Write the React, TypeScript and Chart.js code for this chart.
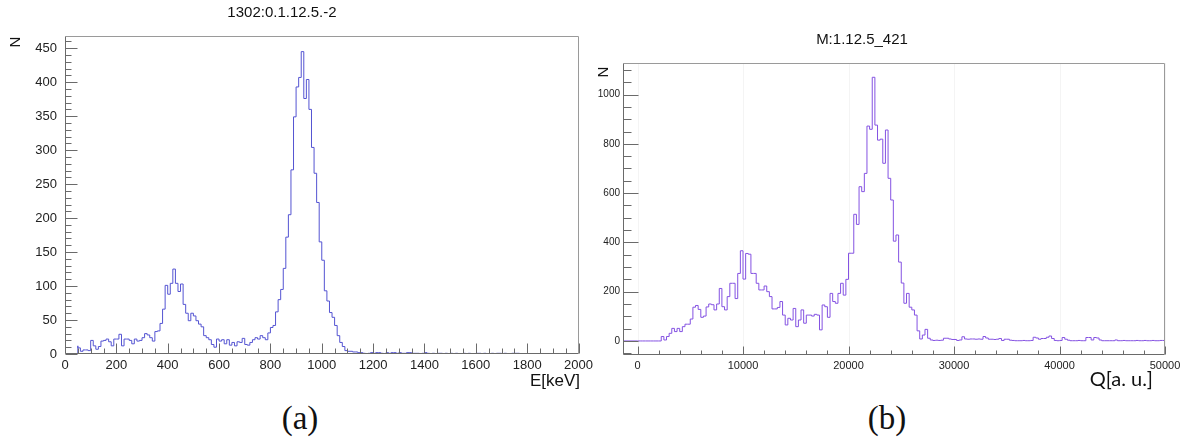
import React, { useEffect, useRef } from "react";
import { Chart, registerables } from "chart.js";

Chart.register(...registerables);

// ---------- data ----------
const leftTitle = "1302:0.1.12.5.-2";
const leftXLabel = "E[keV]";
const leftBinStart = 50;
const leftBinWidth = 10;
const leftCounts = [
  12, 9, 4, 6, 6, 5, 20, 12, 7, 11,
  19, 20, 22, 18, 12, 22, 22, 29, 12, 22,
  22, 20, 15, 22, 19, 20, 24, 30, 28, 24,
  19, 33, 34, 45, 66, 101, 88, 104, 125, 104,
  92, 103, 73, 60, 49, 60, 56, 49, 44, 40,
  27, 24, 21, 14, 10, 22, 19, 21, 15, 21,
  13, 17, 12, 18, 17, 23, 14, 13, 17, 21,
  24, 22, 27, 24, 21, 31, 39, 42, 62, 80,
  95, 126, 172, 205, 271, 349, 393, 407, 445, 376,
  404, 360, 304, 266, 223, 165, 138, 93, 78, 61,
  54, 42, 27, 17, 11, 5, 4, 4, 3, 3,
  2, 2, 1, 0, 1, 2, 1, 2, 2, 1,
  0, 2, 1, 2, 2, 1, 2, 1, 1, 2,
  2, 1, 1, 1, 0, 1, 2, 1, 0, 1,
  0, 1, 1, 0, 1, 0, 1, 0, 1, 0,
  0, 1, 0, 1, 0, 0, 1, 1, 0, 1,
  0, 0, 1, 0, 1, 1, 0, 1, 0, 0,
  1, 1,
];
const leftXTicks = [0, 200, 400, 600, 800, 1000, 1200, 1400, 1600, 1800, 2000];
const leftYTicks = [0, 50, 100, 150, 200, 250, 300, 350, 400, 450];

const rightTitle = "M:1.12.5_421";
const rightXLabel = "Q[a. u.]";
const rightBinStart = 0;
const rightBinWidth = 250;
const rightCounts = [
  0, 0, 0, 0, 0, 0, 0, 0, 0, 0,
  18, 4, 18, 31, 51, 38, 51, 38, 58, 68,
  68, 89, 137, 144, 128, 96, 101, 138, 150, 147,
  126, 150, 213, 139, 126, 180, 234, 234, 172, 274,
  366, 251, 355, 352, 274, 274, 234, 207, 207, 223,
  200, 180, 130, 130, 136, 160, 105, 65, 92, 85,
  132, 58, 85, 126, 72, 105, 105, 101, 108, 105,
  45, 146, 139, 96, 193, 160, 153, 193, 234, 186,
  250, 356, 356, 514, 473, 626, 606, 680, 872, 859,
  1070, 876, 815, 819, 721, 856, 660, 572, 405, 430,
  320, 235, 153, 193, 137, 126, 105, 41, 8, 24,
  47, 11, 4, 2, 3, 2, 3, 11, 11, 8,
  6, 6, 2, 4, 17, 8, 7, 8, 8, 7,
  8, 7, 18, 12, 7, 7, 6, 7, 10, 2,
  7, 7, 3, 2, 1, 1, 1, 2, 1, 1,
  2, 15, 12, 7, 10, 10, 15, 20, 10, 2,
  1, 2, 14, 7, 3, 1, 1, 1, 2, 1,
  1, 14, 14, 4, 14, 12, 4, 1, 1, 1,
  1, 1, 4, 1, 1, 2, 1, 1, 1, 1,
  2, 1, 1, 2, 1, 1, 2, 1, 1, 2,
];
const rightXTicks = [0, 10000, 20000, 30000, 40000, 50000];
const rightYTicks = [0, 200, 400, 600, 800, 1000];

// ---------- helpers ----------
type Pt = { x: number; y: number };

function histPoints(start: number, width: number, counts: number[], from: number | null, dropToZero: boolean): Pt[] {
  const pts: Pt[] = [];
  if (from !== null) pts.push({ x: from, y: 0 });
  pts.push({ x: start, y: 0 });
  counts.forEach((c, i) => pts.push({ x: start + i * width, y: c }));
  const end = start + counts.length * width;
  pts.push({ x: end, y: counts[counts.length - 1] });
  if (dropToZero) pts.push({ x: end, y: 0 });
  return pts;
}

const rootFrame = {
  id: "rootFrame",
  beforeDatasetsDraw(chart: any, _args: any, opts: any) {
    if (!opts || !opts.grid) return;
    const { ctx, chartArea: a, scales } = chart;
    ctx.save();
    ctx.strokeStyle = "rgba(0,0,0,0.045)";
    ctx.lineWidth = 1;
    for (const v of opts.xMajorList) {
      const px = Math.round(scales.x.getPixelForValue(v)) + 0.5;
      ctx.beginPath();
      ctx.moveTo(px, a.top);
      ctx.lineTo(px, a.bottom);
      ctx.stroke();
    }
    ctx.restore();
  },
  afterDatasetsDraw(chart: any, _args: any, opts: any) {
    const { ctx, chartArea: a, scales } = chart;
    const L = Math.round(a.left) + 0.5;
    const R = Math.round(a.right) - 0.5;
    const T = Math.round(a.top) + 0.5;
    const B = Math.round(a.bottom) - 0.5;
    ctx.save();
    ctx.lineWidth = 1;
    ctx.strokeStyle = opts.frameColor;
    ctx.beginPath();
    ctx.moveTo(L, T);
    ctx.lineTo(R, T);
    ctx.lineTo(R, B);
    ctx.stroke();
    ctx.strokeStyle = opts.axisColor;
    ctx.beginPath();
    ctx.moveTo(L, T);
    ctx.lineTo(L, B);
    ctx.lineTo(R, B);
    ctx.stroke();
    // x ticks
    const xs = scales.x;
    const x0 = Math.ceil(xs.min / opts.xMinor) * opts.xMinor;
    for (let v = x0; v <= xs.max + 1e-9; v += opts.xMinor) {
      const major = Math.abs(v / opts.xMajor - Math.round(v / opts.xMajor)) < 1e-6;
      const len = major ? opts.xMajorLen : opts.xMinorLen;
      const px = Math.round(xs.getPixelForValue(v)) + 0.5;
      ctx.beginPath();
      ctx.moveTo(px, B);
      ctx.lineTo(px, B - len);
      ctx.stroke();
    }
    // y ticks
    const ys = scales.y;
    const y0 = Math.ceil(ys.min / opts.yMinor) * opts.yMinor;
    for (let v = y0; v <= ys.max + 1e-9; v += opts.yMinor) {
      const major = Math.abs(v / opts.yMajor - Math.round(v / opts.yMajor)) < 1e-6;
      const len = major ? opts.yMajorLen : opts.yMinorLen;
      const py = Math.round(ys.getPixelForValue(v)) + 0.5;
      ctx.beginPath();
      ctx.moveTo(L, py);
      ctx.lineTo(L + len, py);
      ctx.stroke();
    }
    ctx.restore();
  },
};

type PanelProps = {
  left: number;
  points: Pt[];
  color: string;
  xMin: number;
  xMax: number;
  yMin: number;
  yMax: number;
  xTicks: number[];
  yTicks: number[];
  padding: { left: number; right: number; top: number; bottom: number };
  yAxisWidth: number;
  xAxisHeight: number;
  fontSize: number;
  yFontSize: number;
  yPad: number;
  xPad: number;
  frameOpts: any;
};

function Panel(p: PanelProps) {
  const ref = useRef<HTMLCanvasElement | null>(null);
  useEffect(() => {
    if (!ref.current) return;
    const chart = new Chart(ref.current, {
      type: "line",
      data: {
        datasets: [
          {
            data: p.points,
            borderColor: p.color,
            borderWidth: 1,
            pointRadius: 0,
            stepped: "after",
            fill: false,
          },
        ],
      },
      options: {
        animation: false,
        responsive: false,
        maintainAspectRatio: false,
        parsing: false,
        normalized: true,
        layout: { padding: p.padding },
        plugins: {
          legend: { display: false },
          tooltip: { enabled: false },
          title: { display: false },
          rootFrame: p.frameOpts,
        } as any,
        scales: {
          x: {
            type: "linear",
            min: p.xMin,
            max: p.xMax,
            grid: { display: false, drawTicks: false },
            border: { display: false },
            afterBuildTicks: (s: any) => {
              s.ticks = p.xTicks.map((v) => ({ value: v }));
            },
            afterFit: (s: any) => {
              s.height = p.xAxisHeight;
            },
            ticks: {
              color: "#222",
              padding: p.xPad,
              maxRotation: 0,
              autoSkip: false,
              font: { family: "'Liberation Sans', Arial, sans-serif", size: p.fontSize },
              callback: (v: any) => String(v),
            },
          },
          y: {
            type: "linear",
            min: p.yMin,
            max: p.yMax,
            grid: { display: false, drawTicks: false },
            border: { display: false },
            afterBuildTicks: (s: any) => {
              s.ticks = p.yTicks.map((v) => ({ value: v }));
            },
            afterFit: (s: any) => {
              s.width = p.yAxisWidth;
            },
            ticks: {
              color: "#222",
              padding: p.yPad,
              autoSkip: false,
              font: { family: "'Liberation Sans', Arial, sans-serif", size: p.yFontSize },
              callback: (v: any) => String(v),
            },
          },
        },
      },
      plugins: [rootFrame as any],
    });
    return () => chart.destroy();
  }, []);
  return (
    <canvas
      ref={ref}
      width={597}
      height={400}
      style={{ position: "absolute", left: p.left, top: 0, width: 597, height: 400 }}
    />
  );
}

const sans = "'Liberation Sans', Arial, sans-serif";

export default function App() {
  const leftPts = histPoints(leftBinStart, leftBinWidth, leftCounts, null, true);
  const rightPts = histPoints(rightBinStart, rightBinWidth, rightCounts, -1375, false);
  return (
    <div style={{ position: "relative", width: 1194, height: 445, background: "#fff", overflow: "hidden" }}>
      <style>{"body{margin:0;background:#fff}"}</style>
      <Panel
        left={0}
        points={leftPts}
        color="#5454d2"
        xMin={0}
        xMax={2000}
        yMin={0}
        yMax={468}
        xTicks={leftXTicks}
        yTicks={leftYTicks}
        padding={{ left: 22, right: 18, top: 36, bottom: 22 }}
        yAxisWidth={43}
        xAxisHeight={24}
        fontSize={13}
        yFontSize={13}
        yPad={8}
        xPad={4}
        frameOpts={{
          frameColor: "#9a9a9a",
          axisColor: "#6a6a6a",
          xMinor: 50,
          xMajor: 200,
          xMajorLen: 10,
          xMinorLen: 5,
          yMinor: 10,
          yMajor: 50,
          yMajorLen: 12,
          yMinorLen: 6,
          grid: false,
          xMajorList: [],
        }}
      />
      <Panel
        left={597}
        points={rightPts}
        color="#8452e2"
        xMin={-1375}
        xMax={50000}
        yMin={-57}
        yMax={1128}
        xTicks={rightXTicks}
        yTicks={rightYTicks}
        padding={{ left: 0, right: 29, top: 63, bottom: 23 }}
        yAxisWidth={26}
        xAxisHeight={22}
        fontSize={11}
        yFontSize={10}
        yPad={3}
        xPad={4}
        frameOpts={{
          frameColor: "#9a9a9a",
          axisColor: "#6a6a6a",
          xMinor: 2000,
          xMajor: 10000,
          xMajorLen: 8,
          xMinorLen: 4,
          yMinor: 50,
          yMajor: 200,
          yMajorLen: 15,
          yMinorLen: 8,
          grid: true,
          xMajorList: rightXTicks,
        }}
      />
      <div style={{ position: "absolute", left: 0, width: 564, top: 3, textAlign: "center", font: `15px ${sans}`, color: "#111" }}>
        {leftTitle}
      </div>
      <div style={{ position: "absolute", left: 6, top: 33, width: 18, height: 18, font: `15px ${sans}`, color: "#111", transform: "rotate(-90deg)", textAlign: "center", lineHeight: "18px" }}>
        N
      </div>
      <div style={{ position: "absolute", right: 1194 - 580, top: 371, font: `17px ${sans}`, color: "#111", whiteSpace: "nowrap" }}>
        {leftXLabel}
      </div>
      <div style={{ position: "absolute", left: 762, width: 200, top: 30, textAlign: "center", font: `15px ${sans}`, color: "#111" }}>
        {rightTitle}
      </div>
      <div style={{ position: "absolute", left: 594, top: 63, width: 18, height: 18, font: `15px ${sans}`, color: "#111", transform: "rotate(-90deg)", textAlign: "center", lineHeight: "18px" }}>
        N
      </div>
      <div style={{ position: "absolute", right: 1194 - 1153, top: 366, font: `20px Lato, 'Open Sans', sans-serif`, color: "#111", whiteSpace: "nowrap" }}>
        {rightXLabel}
      </div>
      <div style={{ position: "absolute", left: 240, width: 120, top: 400, textAlign: "center", font: `33px 'Liberation Serif', 'DejaVu Serif', serif`, color: "#111" }}>
        (a)
      </div>
      <div style={{ position: "absolute", left: 827, width: 120, top: 400, textAlign: "center", font: `33px 'Liberation Serif', 'DejaVu Serif', serif`, color: "#111" }}>
        (b)
      </div>
    </div>
  );
}
